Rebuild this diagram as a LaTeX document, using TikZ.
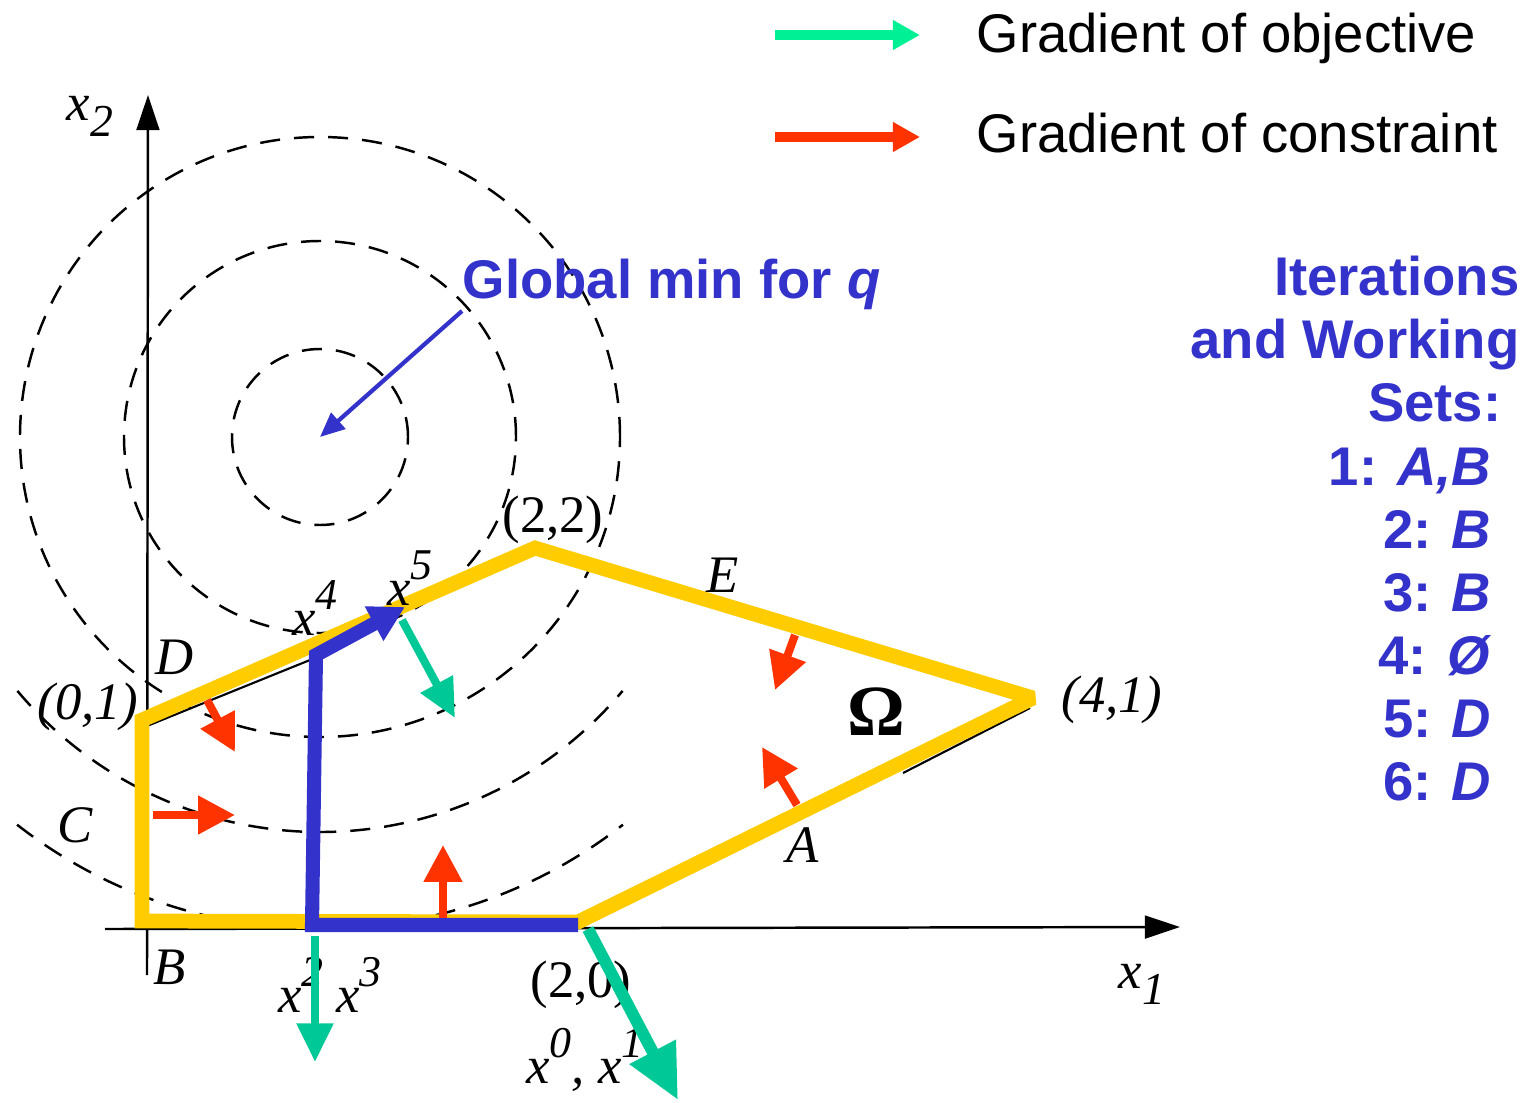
\documentclass[tikz,border=0pt]{standalone}
\usepackage{fontspec}
\setmainfont{Liberation Serif}
\setsansfont{Liberation Sans}
\usetikzlibrary{arrows.meta}
\usetikzlibrary{calc}
\definecolor{feasyellow}{RGB}{255,204,0}
\definecolor{pathblue}{RGB}{51,51,204}
\definecolor{conred}{RGB}{255,51,0}
\definecolor{objgreen}{RGB}{0,200,150}
\definecolor{keygreen}{RGB}{0,240,150}
\newcommand{\xsup}[1]{\textit{x}\raisebox{0.5em}{\fontsize{12.5}{12.5}\selectfont\textit{#1}}}
\newcommand{\xsub}[1]{\textit{x}\raisebox{-0.3em}{\fontsize{13}{13}\selectfont #1}}

\begin{document}
\begin{tikzpicture}[
    lab/.style={font=\fontsize{15}{18}\selectfont\itshape, inner sep=0pt},
    blurb/.style={font=\fontsize{15.5}{17.95}\selectfont\sffamily\bfseries, text=pathblue, inner sep=0pt},
    level/.style={dash pattern=on 5.7pt off 4pt, line width=0.7pt},
    congrad/.style={conred, line width=2.3pt, -{Triangle[length=10.5pt,width=10.5pt]}},
    objgrad/.style={objgreen, line width=2.3pt, -{Triangle[length=11pt,width=10pt]}},
    axis/.style={line width=0.7pt, -{Triangle[length=10pt,width=6.5pt]}}
    ]
        \useasboundingbox (-1.45,-1.74) rectangle (13.83,9.28);
        % level sets of q
        \coordinate (M) at (1.75,4.91);
        \foreach \r in {0.88,1.96,3.0}
        {
            \draw[level] (M) circle (\r);
        }
        \draw[level] (M) ++(220:3.95) arc (220:320:3.95);
        \draw[level] (M) ++(232:4.92) arc (232:308:4.92);
        % axes
        \draw[axis] (-0.40,-0.01) -- (10.35,0.01);
        \draw[axis] (0.02,-0.47) -- (0.03,8.33);
        \node[lab] (xone) at (9.97,-0.56) {\xsub{\textit{1}}};
        \node[lab] (xtwo) at (-0.55,8.12) {\xsub{2}};
        % ~~~~~~~~~~~~~~~~~
        \coordinate (B) at (-0.03,0.07);
        \coordinate (P01) at (-0.03,2.08);
        \coordinate (P22) at (3.90,3.80);
        \coordinate (P41) at (8.88,2.30);
        \coordinate (P20) at (4.33,0.06);
        \draw[line width=0.6pt] (0.02,2.02) -- (1.65,2.68);
        \draw[line width=0.6pt] (7.58,1.55) -- (8.85,2.20);
        \draw[feasyellow, line width=4.2pt, line join=miter, miter limit=2] (B) -- (P01) -- (P22) -- (P41) -- (P20) -- cycle;
        % labels
        \node[lab, font=\fontsize{15}{18}\selectfont] (l22) at (4.08,4.08) {(2,2)};
        \node[lab] (l01) at (-0.57,2.21) {(0,1)};
        \node[lab] (l41) at (9.67,2.28) {(4,1)};
        \node[lab, font=\fontsize{15}{18}\selectfont] (l20) at (4.36,-0.57) {(2,0)};
        \node[lab] (cE) at (5.78,3.53) {E};
        \node[lab] (cD) at (0.30,2.71) {D};
        \node[lab] (cC) at (-0.70,1.03) {C};
        \node[lab] (cB) at (0.25,-0.39) {B};
        \node[lab] (cA) at (6.58,0.83) {A};
        \node[inner sep=0pt, font=\fontsize{20.5}{24}\selectfont\bfseries] (omega) at (7.31,2.16) {Ω};
        \node[lab] (it4) at (1.70,3.20) {\xsup{4}};
        \node[lab] (it5) at (2.65,3.50) {\xsup{5}};
        \node[lab] (it23) at (1.85,-0.57) {\xsup{2} \xsup{3}};
        \node[lab] (it01) at (4.40,-1.32) {\xsup{0}, \xsup{1}};
        % iterates
        \coordinate (x0) at (4.33,0.03);
        \coordinate (x2) at (1.67,0.03);
        \coordinate (x4) at (1.71,2.73);
        \coordinate (x5) at (2.60,3.21);
        \draw[pathblue, line width=4pt, line join=miter, -{Triangle[length=10pt,width=10.5pt]}]
            (x0) -- (x2) -- (x4) -- (x5);
        % gradients of the objective
        \coordinate (g5) at (2.57,3.08);
        \coordinate (g5e) at (3.10,2.10);
        \coordinate (g2) at (1.70,-0.08);
        \coordinate (g2e) at (1.70,-1.34);
        \coordinate (g0) at (4.43,-0.01);
        \coordinate (g0e) at (5.33,-1.72);
        \draw[objgrad] (g5) -- (g5e);
        \draw[objgrad] (g2) -- (g2e);
        \draw[objgrad, line width=3.4pt, -{Triangle[length=15.5pt,width=14pt]}] (g0) -- (g0e);
        % gradients of the constraints
        \coordinate (rD) at (0.62,2.28);
        \coordinate (rDe) at (0.90,1.76);
        \coordinate (rC) at (0.08,1.13);
        \coordinate (rCe) at (0.90,1.13);
        \coordinate (rB) at (2.98,0.10);
        \coordinate (rBe) at (2.98,0.83);
        \coordinate (rE) at (6.50,2.93);
        \coordinate (rEe) at (6.30,2.38);
        \coordinate (rA) at (6.52,1.23);
        \coordinate (rAe) at (6.17,1.81);
        \draw[congrad] (rD) -- (rDe);
        \draw[congrad] (rC) -- (rCe);
        \draw[congrad] (rB) -- (rBe);
        \draw[congrad] (rE) -- (rEe);
        \draw[congrad] (rA) -- (rAe);
        % global minimum
        \node[blurb, anchor=south west] (glob) at (3.17,6.17) {Global min for \textit{q}};
        \draw[pathblue, line width=1.2pt, -{Triangle[length=7pt,width=6pt]}] (glob.south west) -- (M);
        % key
        \coordinate (k1) at (6.30,8.93);
        \coordinate (k1e) at (7.75,8.93);
        \coordinate (k2) at (6.30,7.91);
        \coordinate (k2e) at (7.75,7.91);
        \draw[keygreen, line width=2.8pt, -{Triangle[length=7.7pt,width=8pt]}] (k1) -- (k1e);
        \draw[conred, line width=2.8pt, -{Triangle[length=7.7pt,width=8pt]}] (k2) -- (k2e);
        \node[anchor=base west, inner sep=0pt, font=\fontsize{15.5}{18}\selectfont\sffamily] (kobj) at (8.31,8.75) {Gradient of objective};
        \node[anchor=base west, inner sep=0pt, font=\fontsize{15.5}{18}\selectfont\sffamily] (kcon) at (8.31,7.75) {Gradient of constraint};
        % working sets
        \node[blurb, align=right, anchor=north east] (iter) at (13.75,6.73) {Iterations\\and Working\\Sets:\rule{0.18cm}{0pt}};
        \node[blurb, align=right, anchor=north east] (wsets) at (13.47,4.81)
            {1: \textit{A,B}\\2: \textit{B}\\3: \textit{B}\\4: \textit{Ø}\\5: \textit{D}\\6: \textit{D}};
    \end{tikzpicture}
\end{document}
